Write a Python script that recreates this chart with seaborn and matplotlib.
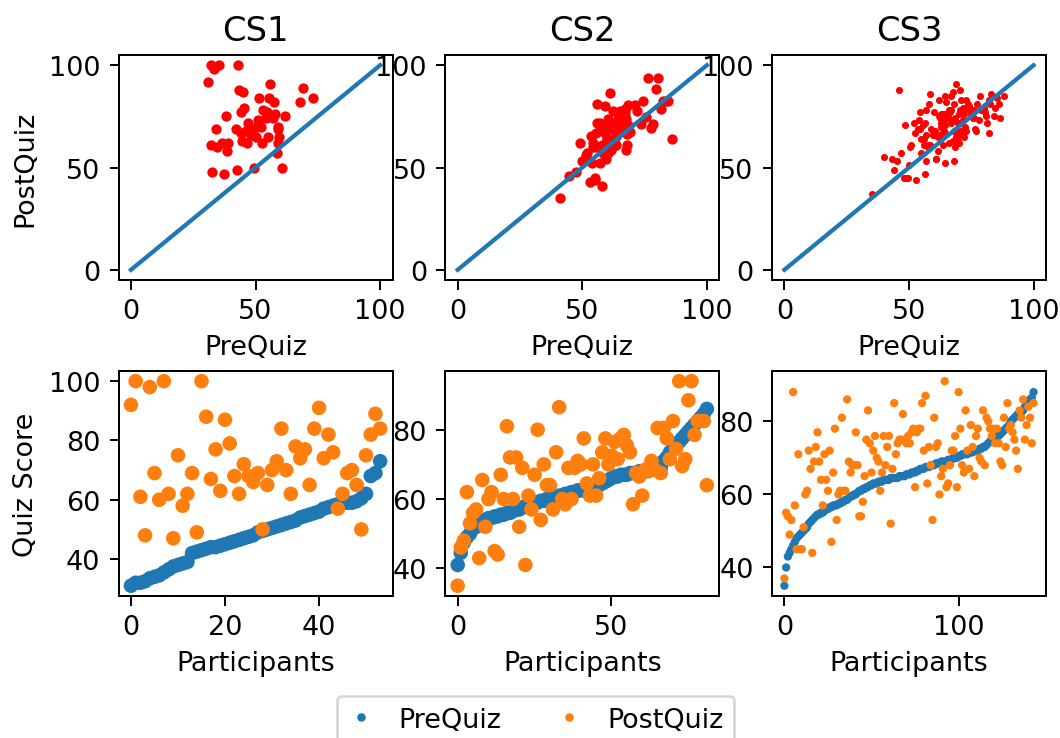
import matplotlib
matplotlib.use("Agg")
import matplotlib.pyplot as plt
from matplotlib.lines import Line2D
import numpy as np
import pandas as pd
import seaborn as sns

courses = ["CS1", "CS2", "CS3"]
series_names = ["PreQuiz", "PostQuiz"]

cs1_pre = [31, 32, 32, 32.5, 33.5, 34, 34.5, 35.5, 36.5, 37.5, 38, 38.5, 39, 42,
           42.5, 43, 43.5, 44, 44, 44.5, 45, 45.5, 46, 46.5, 47, 47.5, 48, 49,
           49.5, 50, 50.5, 51, 51.5, 52, 52.5, 53, 54, 54.5, 55, 55.5, 56, 57,
           57.5, 58, 58.5, 59, 59, 59, 59.5, 60.5, 62, 68, 69, 73]
cs1_post = [92, 100, 61, 48, 98, 69, 60, 100, 62, 47, 75, 58, 62, 69, 49,
            100, 88, 67, 77, 63, 87, 79, 68, 62, 72, 68, 66, 69, 50, 65,
            70, 73, 84, 70, 62, 78, 74, 77, 65, 84, 91, 74, 82, 76, 57,
            62, 69, 70, 65, 50, 75, 82, 89, 84]

cs2_pre = [41, 44.5, 47.5, 49, 50, 51.5, 52, 53, 53.5, 54, 54.5, 54.5, 55, 55,
           55.5, 55.5, 56, 56, 56.5, 57, 57, 57.5, 58, 58, 58.5, 59, 59, 59.5,
           59.5, 60, 60, 60.5, 60.5, 61, 61, 61.5, 61.5, 62, 62, 62.5, 62.5,
           62.5, 63, 63, 63.5, 63.5, 64, 64.5, 65, 65.5, 66, 66.5, 66.5, 67, 67,
           67, 67.5, 67.5, 67.5, 68, 68, 68, 68.5, 68.5, 68.5, 68.5, 69, 71, 72,
           73.5, 74.5, 75.5, 76.5, 77.5, 78.5, 79.5, 80.5, 81.5, 82.5, 83.5,
           84.5, 86]
cs2_post = [35, 46, 48, 62, 53, 56, 57, 43, 65.5, 52, 60, 62, 45, 44, 67,
            60, 81, 72, 60, 72, 52, 69, 41, 61, 57, 67, 80, 54, 70, 64,
            64, 57, 73.5, 86.5, 60, 58.5, 69, 60, 69, 71, 70, 77.5, 64.5, 61, 70,
            61, 66, 73.5, 77.5, 70, 72.5, 76.5, 71.5, 77.5, 78.5, 75.5, 73.5,
            58.5, 67.5, 66.5, 61, 68.5, 68, 71, 68.5, 80.5, 67.5, 80.5, 77.5,
            71.5, 82.5, 74.5, 94, 69.5, 71.5, 88.5, 94, 78.5, 82.5, 82.5, 82.5, 64]

cs3_pre = [35, 40, 43, 44, 45, 46, 47, 48, 48.5, 49, 49.5, 50, 50.5, 51, 52,
           52.5, 53, 53.5, 54, 54.5, 54.5, 55, 55, 55.5, 56, 56, 56.5, 56.5, 57,
           57, 57, 57.5, 57.5, 58, 58, 58.5, 58.5, 59, 59.5, 59.5, 60, 60, 60.5,
           61, 61, 61.5, 61.5, 62, 62, 62.5, 62.5, 63, 63, 63, 63.5, 63.5, 63.5,
           64, 64, 64, 64, 64.5, 64.5, 64.5, 64.5, 64.5, 65, 65, 65, 65, 65.5,
           65.5, 65.5, 66, 66, 66, 66.5, 66.5, 67, 67, 67, 67.5, 67.5, 67.5, 68,
           68, 68, 68.5, 68.5, 68.5, 69, 69, 69, 69, 69.5, 69.5, 69.5, 70, 70,
           70, 70.5, 70.5, 71, 71, 71, 71, 71.5, 71.5, 71.5, 72, 72, 72, 72.5,
           72.5, 73, 73, 73.5, 74, 74.5, 75, 75, 75.5, 76, 76, 76.5, 77, 77.5,
           78, 78.5, 79, 80, 80.5, 81, 81.5, 82, 82, 82.5, 83, 84, 84.5, 85.5,
           86, 86.5, 88]
cs3_post = [37, 55, 54, 49, 53, 88, 57, 45, 71, 45, 45, 51, 60, 61, 72, 67,
            44, 69, 73, 77, 69, 64, 57, 71, 64, 61, 72, 47, 66, 78, 53, 60, 61,
            81, 61, 61, 86, 69, 66, 68, 68, 77, 68, 54, 54, 58, 65, 75, 83, 74,
            66, 72, 76, 70, 69, 61, 66, 76, 68, 73, 76, 52, 67, 85, 71, 74, 75,
            75, 82, 75, 74, 76, 74, 77, 78, 62, 77, 78, 78, 85, 72, 87, 63, 73,
            68, 53, 81, 73, 74, 60, 65, 67, 91, 62, 63, 68, 72, 72, 76, 62, 88,
            78, 68, 66, 83, 72, 67, 79, 73, 65, 76, 78, 70, 69, 83, 68, 81, 80,
            78, 76, 78, 74, 78, 74, 69, 68, 81, 73, 85, 78, 79, 77, 75, 72, 67,
            83, 81, 86, 75, 79, 84, 81, 74, 85]

pre_all = [cs1_pre, cs2_pre, cs3_pre]
post_all = [cs1_post, cs2_post, cs3_post]

diag = [0, 100]
top_ticks = [0, 50, 100]
bottom_xticks = [[0, 20, 40], [0, 50], [0, 100]]
bottom_yticks = [[40, 60, 80, 100], [40, 60, 80], [40, 60, 80]]

DPI = 180
plt.rcParams.update({
    "font.size": 10.8,
    "xtick.labelsize": 10.8,
    "ytick.labelsize": 10.8,
    "axes.labelsize": 10.8,
    "xtick.major.size": 3.8,
    "ytick.major.size": 3.8,
})

fig, axes = plt.subplots(2, 3, figsize=(1060 / DPI, 739 / DPI), dpi=DPI)
fig.subplots_adjust(left=0.1118, right=0.9868, top=0.9242, bottom=0.1922,
                    wspace=0.192, hspace=0.404)

top_sizes = [17, 17, 8]
bottom_sizes = [34, 34, 11]
colors = ["#1f77b4", "#ff7f0e"]

for j in range(3):
    pre = pre_all[j]
    post = post_all[j]
    ax = axes[0, j]
    sns.scatterplot(x=pre, y=post, color="red", s=top_sizes[j], linewidth=0, ax=ax)
    sns.lineplot(x=diag, y=diag, color=colors[0], linewidth=1.7, ax=ax)
    ax.set_xticks(top_ticks)
    ax.set_yticks(top_ticks)
    ax.set_title(courses[j], fontsize=13.5)
    ax.set_xlabel("PreQuiz")
    ax.set_ylabel("PostQuiz" if j == 0 else "")

    n = len(pre)
    df = pd.DataFrame({
        "Participants": list(range(n)) * 2,
        "Quiz Score": list(pre) + list(post),
        "Series": [series_names[0]] * n + [series_names[1]] * n,
    })
    ax2 = axes[1, j]
    sns.scatterplot(data=df, x="Participants", y="Quiz Score", hue="Series",
                    palette=colors, s=bottom_sizes[j], linewidth=0,
                    legend=False, ax=ax2)
    ax2.set_xticks(bottom_xticks[j])
    ax2.set_yticks(bottom_yticks[j])
    ax2.set_xlabel("Participants")
    ax2.set_ylabel("Quiz Score" if j == 0 else "")

handles = [Line2D([], [], marker="o", linestyle="", color=c, markersize=3.4,
                  markeredgewidth=0) for c in colors]
fig.legend(handles, series_names, loc="upper center",
           bbox_to_anchor=(0.505, 1 - 697 / 739), ncol=2, borderaxespad=0,
           handlelength=1.0, handletextpad=0.9, columnspacing=2.0,
           fontsize=10.8)

fig.savefig("out.png", dpi=DPI)
